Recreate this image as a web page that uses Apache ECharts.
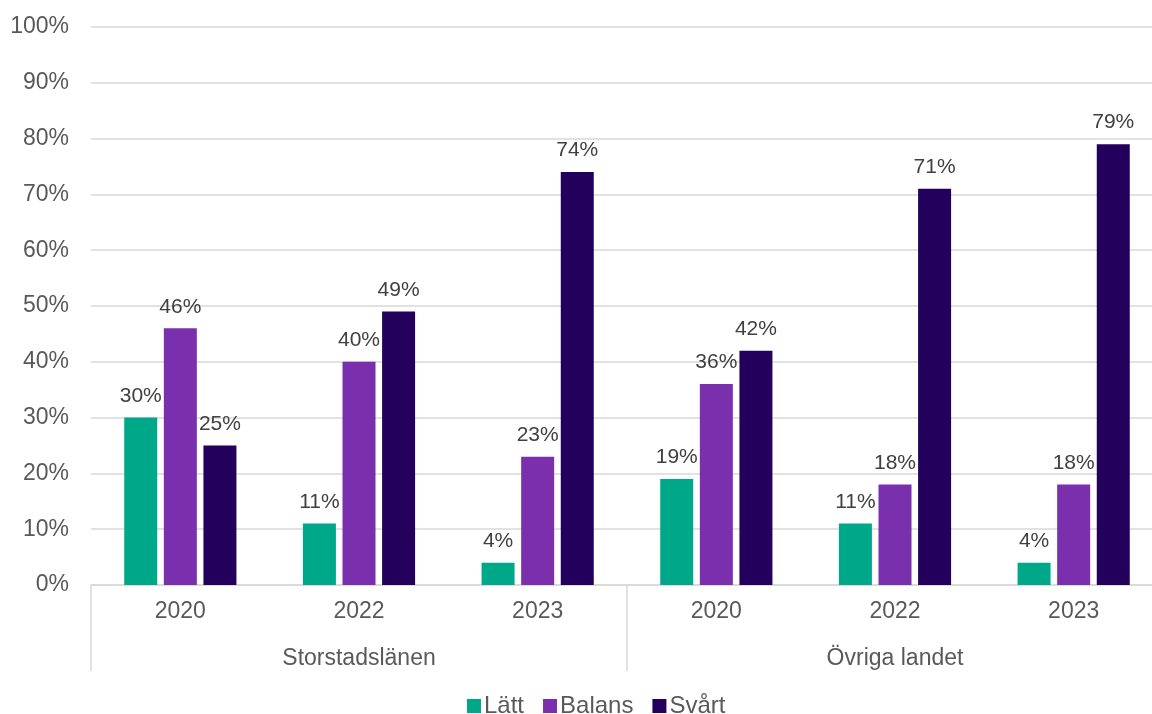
<!DOCTYPE html>
<html>
<head>
<meta charset="utf-8">
<script src="https://cdn.jsdelivr.net/npm/echarts@6/dist/echarts.min.js"></script>
<style>
html,body{margin:0;padding:0;background:#fff;}
#chart{width:1152px;height:714px;}
</style>
</head>
<body>
<div id="chart"></div>
<script>
const years = ['2020', '2022', '2023', '2020', '2022', '2023'];
const groups = ['Storstadslänen', 'Övriga landet'];
const seriesNames = ['Lätt', 'Balans', 'Svårt'];
const latt = [30, 11, 4, 19, 11, 4];
const balans = [46, 40, 23, 36, 18, 18];
const svart = [25, 49, 74, 42, 71, 79];
const colors = ['#00A88A', '#7A30AD', '#22005C'];

const FONT = '"Liberation Sans", Arial, sans-serif';
const chart = echarts.init(document.getElementById('chart'), null, {renderer: 'canvas'});

function mk(name, data, color) {
  return {
    name: name, type: 'bar', data: data, barWidth: 33, barGap: '20%',
    itemStyle: {color: color},
    label: {show: true, position: 'top', distance: 11, formatter: '{c}%',
      color: '#404040', fontSize: 21, fontFamily: FONT},
    xAxisIndex: 0
  };
}

chart.setOption({
  animation: false,
  backgroundColor: '#fff',
  textStyle: {fontFamily: FONT},
  grid: {left: 91, top: 27, width: 1072, height: 558, containLabel: false, outerBoundsMode: 'none'},
  legend: {
    data: seriesNames, top: 694, left: 462, itemWidth: 14, itemHeight: 14,
    itemGap: 19, icon: 'rect', padding: [0, 5, 0, 5],
    textStyle: {color: '#595959', fontSize: 24, fontFamily: FONT, padding: [0, 0, 0, -2]}
  },
  xAxis: [
    {type: 'category', data: years, position: 'bottom',
     axisLine: {lineStyle: {color: '#D9D9D9', width: 1.5}},
     axisTick: {show: false},
     axisLabel: {color: '#595959', fontSize: 23, fontFamily: FONT, margin: 15}},
    {type: 'category', data: groups, position: 'bottom',
     axisLine: {show: false},
     axisTick: {show: true, length: 86, lineStyle: {color: '#D9D9D9', width: 1.5}},
     axisLabel: {color: '#595959', fontSize: 23, fontFamily: FONT, margin: 62}}
  ],
  yAxis: {
    type: 'value', min: 0, max: 100, interval: 10,
    axisLine: {show: false}, axisTick: {show: false},
    axisLabel: {formatter: '{value}%', color: '#595959', fontSize: 23, fontFamily: FONT, margin: 22},
    splitLine: {lineStyle: {color: '#D9D9D9', width: 1.5}}
  },
  series: [mk(seriesNames[0], latt, colors[0]), mk(seriesNames[1], balans, colors[1]), mk(seriesNames[2], svart, colors[2])]
});
</script>
</body>
</html>
